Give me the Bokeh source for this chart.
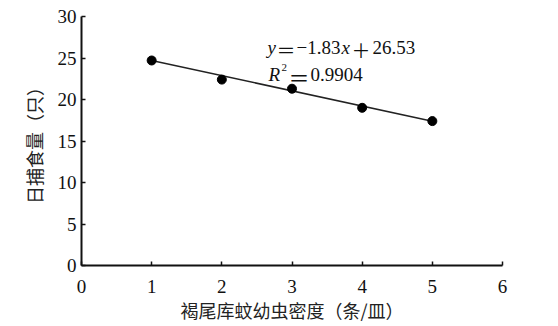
from bokeh.plotting import figure
from bokeh.models import Range1d, Label, FixedTicker
from bokeh.embed import file_html
from bokeh.resources import INLINE

# data
density = [1, 2, 3, 4, 5]
intake = [24.7, 22.4, 21.3, 19.0, 17.4]
slope = -1.83
intercept = 26.53
r2 = 0.9904
x_ticks = [0, 1, 2, 3, 4, 5, 6]
y_ticks = [0, 5, 10, 15, 20, 25, 30]
x_title = "褐尾库蚊幼虫密度（条/皿）"
y_title = "日捕食量（只）"

SERIF = "Liberation Serif"
CJK = "Noto Sans CJK SC"
INK = "#111111"

p = figure(frame_width=421, frame_height=249, output_backend="svg", toolbar_location=None,
           x_range=Range1d(0, 6), y_range=Range1d(0, 30),
           min_border_left=81, min_border_right=48, min_border_top=16, min_border_bottom=40)
p.outline_line_color = None
p.grid.visible = False
p.background_fill_color = "white"

for ax, ticks in ((p.xaxis[0], x_ticks), (p.yaxis[0], y_ticks)):
    ax.ticker = FixedTicker(ticks=ticks)
    ax.minor_tick_line_color = None
    ax.major_tick_in = 4
    ax.major_tick_out = 0
    ax.axis_line_width = 2
    ax.axis_line_color = INK
    ax.major_tick_line_width = 1.5
    ax.major_tick_line_color = INK
    ax.major_label_text_font = SERIF
    ax.major_label_text_font_size = "19px"
    ax.major_label_text_color = INK
    ax.axis_label_text_font = CJK
    ax.axis_label_text_font_size = "18px"
    ax.axis_label_text_font_style = "normal"
    ax.axis_label_text_color = "#222222"

p.xaxis.axis_label = x_title
p.yaxis.axis_label = y_title
p.xaxis.major_label_standoff = 14
p.xaxis.axis_label_standoff = 1
p.yaxis.major_label_standoff = 5
p.yaxis.axis_label_standoff = 8

# fit line from the equation
fx = [density[0], density[-1]]
fy = [slope * v + intercept for v in fx]
p.line(fx, fy, line_color="#222222", line_width=1.5)
p.scatter(density, intake, size=9, color="black")

# equation text
ax0 = 2.651
row1_y = 26.26
row2_y = 23.01

def lab(text, off, y, italic=False, size="19px", yoff=0, font=SERIF):
    p.add_layout(Label(x=ax0, y=y, x_offset=off, y_offset=yoff, text=text,
                       text_font=font, text_font_size=size,
                       text_font_style="italic" if italic else "normal",
                       text_color=INK, text_baseline="alphabetic", text_align="left"))

lab("y", 0, row1_y, italic=True)
lab("\uff1d", 9, row1_y, font=CJK, yoff=-2)
lab(f"\u2212{abs(slope):.2f}", 29, row1_y)
lab("x", 74, row1_y, italic=True)
lab("\uff0b", 84, row1_y, font=CJK, yoff=-2)
lab(f"{intercept:.2f}", 105, row1_y)

lab("R", 1, row2_y, italic=True)
lab("2", 14, row2_y, size="11px", yoff=7)
lab("\uff1d", 21, row2_y, font=CJK, yoff=-2, size="21px")
lab(f"{r2:.4f}", 43, row2_y)

open("out.html", "w").write(file_html(p, INLINE))
